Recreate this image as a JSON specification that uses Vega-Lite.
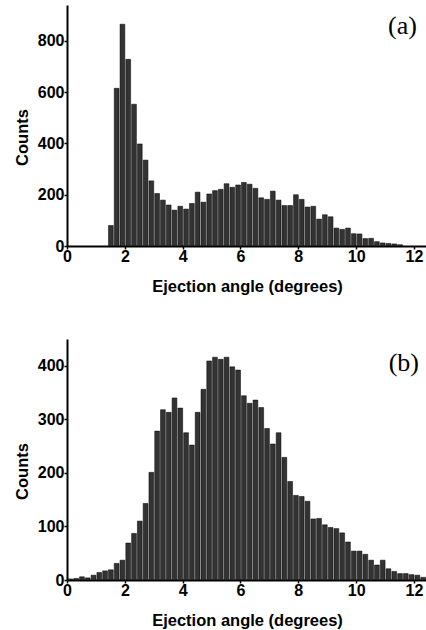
{
  "$schema": "https://vega.github.io/schema/vega-lite/v6.json",
  "padding": {"left": 14, "top": 5, "right": 0, "bottom": 5},
  "background": "white",
  "spacing": 44,
  "config": {
    "view": {"stroke": null},
    "axis": {
      "grid": false,
      "labelFont": "Liberation Sans", "labelFontWeight": "bold", "labelFontSize": 16, "labelColor": "black",
      "titleFont": "Liberation Sans", "titleFontWeight": "bold", "titleFontSize": 16.5, "titleColor": "black",
      "domainColor": "black", "domainWidth": 2, "tickColor": "black", "tickWidth": 1.5, "tickSize": 3
    },
    "axisX": {"labelPadding": -1, "titlePadding": 14},
    "axisY": {"labelPadding": 0, "titlePadding": 7}
  },
  "datasets": {
    "a": [
      {"lo":1.4,"hi":1.6,"count":80},{"lo":1.6,"hi":1.8,"count":615},{"lo":1.8,"hi":2.0,"count":865},{"lo":2.0,"hi":2.2,"count":728},
      {"lo":2.2,"hi":2.4,"count":553},{"lo":2.4,"hi":2.6,"count":398},{"lo":2.6,"hi":2.8,"count":335},{"lo":2.8,"hi":3.0,"count":254},
      {"lo":3.0,"hi":3.2,"count":205},{"lo":3.2,"hi":3.4,"count":179},{"lo":3.4,"hi":3.6,"count":160},{"lo":3.6,"hi":3.8,"count":140},
      {"lo":3.8,"hi":4.0,"count":155},{"lo":4.0,"hi":4.2,"count":144},{"lo":4.2,"hi":4.4,"count":166},{"lo":4.4,"hi":4.6,"count":210},
      {"lo":4.6,"hi":4.8,"count":171},{"lo":4.8,"hi":5.0,"count":203},{"lo":5.0,"hi":5.2,"count":216},{"lo":5.2,"hi":5.4,"count":221},
      {"lo":5.4,"hi":5.6,"count":243},{"lo":5.6,"hi":5.8,"count":229},{"lo":5.8,"hi":6.0,"count":238},{"lo":6.0,"hi":6.2,"count":248},
      {"lo":6.2,"hi":6.4,"count":241},{"lo":6.4,"hi":6.6,"count":225},{"lo":6.6,"hi":6.8,"count":188},{"lo":6.8,"hi":7.0,"count":182},
      {"lo":7.0,"hi":7.2,"count":214},{"lo":7.2,"hi":7.4,"count":179},{"lo":7.4,"hi":7.6,"count":158},{"lo":7.6,"hi":7.8,"count":158},
      {"lo":7.8,"hi":8.0,"count":200},{"lo":8.0,"hi":8.2,"count":182},{"lo":8.2,"hi":8.4,"count":152},{"lo":8.4,"hi":8.6,"count":155},
      {"lo":8.6,"hi":8.8,"count":105},{"lo":8.8,"hi":9.0,"count":122},{"lo":9.0,"hi":9.2,"count":114},{"lo":9.2,"hi":9.4,"count":70},
      {"lo":9.4,"hi":9.6,"count":65},{"lo":9.6,"hi":9.8,"count":70},{"lo":9.8,"hi":10.0,"count":48},{"lo":10.0,"hi":10.2,"count":47},
      {"lo":10.2,"hi":10.4,"count":29},{"lo":10.4,"hi":10.6,"count":30},{"lo":10.6,"hi":10.8,"count":17},{"lo":10.8,"hi":11.0,"count":12},
      {"lo":11.0,"hi":11.2,"count":10},{"lo":11.2,"hi":11.4,"count":8},{"lo":11.4,"hi":11.6,"count":5}
    ],
    "b": [
      {"lo":0.0,"hi":0.2,"count":2},{"lo":0.2,"hi":0.4,"count":3},{"lo":0.4,"hi":0.6,"count":6},{"lo":0.6,"hi":0.8,"count":4},
      {"lo":0.8,"hi":1.0,"count":9},{"lo":1.0,"hi":1.2,"count":14},{"lo":1.2,"hi":1.4,"count":17},{"lo":1.4,"hi":1.6,"count":19},
      {"lo":1.6,"hi":1.8,"count":31},{"lo":1.8,"hi":2.0,"count":37},{"lo":2.0,"hi":2.2,"count":69},{"lo":2.2,"hi":2.4,"count":87},
      {"lo":2.4,"hi":2.6,"count":110},{"lo":2.6,"hi":2.8,"count":143},{"lo":2.8,"hi":3.0,"count":201},{"lo":3.0,"hi":3.2,"count":278},
      {"lo":3.2,"hi":3.4,"count":318},{"lo":3.4,"hi":3.6,"count":313},{"lo":3.6,"hi":3.8,"count":340},{"lo":3.8,"hi":4.0,"count":321},
      {"lo":4.0,"hi":4.2,"count":275},{"lo":4.2,"hi":4.4,"count":252},{"lo":4.4,"hi":4.6,"count":313},{"lo":4.6,"hi":4.8,"count":356},
      {"lo":4.8,"hi":5.0,"count":409},{"lo":5.0,"hi":5.2,"count":416},{"lo":5.2,"hi":5.4,"count":412},{"lo":5.4,"hi":5.6,"count":416},
      {"lo":5.6,"hi":5.8,"count":398},{"lo":5.8,"hi":6.0,"count":392},{"lo":6.0,"hi":6.2,"count":344},{"lo":6.2,"hi":6.4,"count":330},
      {"lo":6.4,"hi":6.6,"count":336},{"lo":6.6,"hi":6.8,"count":322},{"lo":6.8,"hi":7.0,"count":283},{"lo":7.0,"hi":7.2,"count":254},
      {"lo":7.2,"hi":7.4,"count":275},{"lo":7.4,"hi":7.6,"count":229},{"lo":7.6,"hi":7.8,"count":184},{"lo":7.8,"hi":8.0,"count":158},
      {"lo":8.0,"hi":8.2,"count":156},{"lo":8.2,"hi":8.4,"count":147},{"lo":8.4,"hi":8.6,"count":114},{"lo":8.6,"hi":8.8,"count":115},
      {"lo":8.8,"hi":9.0,"count":103},{"lo":9.0,"hi":9.2,"count":98},{"lo":9.2,"hi":9.4,"count":96},{"lo":9.4,"hi":9.6,"count":88},
      {"lo":9.6,"hi":9.8,"count":71},{"lo":9.8,"hi":10.0,"count":54},{"lo":10.0,"hi":10.2,"count":54},{"lo":10.2,"hi":10.4,"count":48},
      {"lo":10.4,"hi":10.6,"count":37},{"lo":10.6,"hi":10.8,"count":28},{"lo":10.8,"hi":11.0,"count":37},{"lo":11.0,"hi":11.2,"count":21},
      {"lo":11.2,"hi":11.4,"count":16},{"lo":11.4,"hi":11.6,"count":12},{"lo":11.6,"hi":11.8,"count":12},{"lo":11.8,"hi":12.0,"count":10},
      {"lo":12.0,"hi":12.2,"count":9},{"lo":12.2,"hi":12.4,"count":5}
    ]
  },
  "vconcat": [
    {
      "width": 360,
      "height": 241,
      "layer": [
        {
          "data": {"name": "a"},
          "mark": {"type": "bar", "fill": "#333333", "stroke": "#000000", "strokeWidth": 0.5, "binSpacing": 1},
          "encoding": {
            "x": {"field": "lo", "type": "quantitative", "bin": "binned",
                  "scale": {"domain": [0, 12.45], "nice": false, "zero": false},
                  "axis": {"title": "Ejection angle (degrees)", "values": [0,1,2,3,4,5,6,7,8,9,10,11,12],
                           "labelExpr": "datum.value % 2 == 0 ? datum.label : ''", "labelFlush": false}},
            "x2": {"field": "hi"},
            "y": {"field": "count", "type": "quantitative",
                  "scale": {"domain": [0, 940], "nice": false},
                  "axis": {"title": "Counts", "values": [0,100,200,300,400,500,600,700,800,900],
                           "labelExpr": "datum.value % 200 == 0 ? datum.label : ''", "titleY": 132}}
          }
        },
        {
          "data": {"values": [{"x": 11.6, "y": 857, "label": "(a)"}]},
          "mark": {"type": "text", "font": "Liberation Serif", "fontSize": 26, "color": "black", "align": "center", "baseline": "middle"},
          "encoding": {
            "x": {"field": "x", "type": "quantitative"},
            "y": {"field": "y", "type": "quantitative"},
            "text": {"field": "label"}
          }
        }
      ]
    },
    {
      "width": 360,
      "height": 241,
      "layer": [
        {
          "data": {"name": "b"},
          "mark": {"type": "bar", "fill": "#333333", "stroke": "#000000", "strokeWidth": 0.5, "binSpacing": 1},
          "encoding": {
            "x": {"field": "lo", "type": "quantitative", "bin": "binned",
                  "scale": {"domain": [0, 12.45], "nice": false, "zero": false},
                  "axis": {"title": "Ejection angle (degrees)", "values": [0,1,2,3,4,5,6,7,8,9,10,11,12],
                           "labelExpr": "datum.value % 2 == 0 ? datum.label : ''", "labelFlush": false}},
            "x2": {"field": "hi"},
            "y": {"field": "count", "type": "quantitative",
                  "scale": {"domain": [0, 450], "nice": false},
                  "axis": {"title": "Counts", "values": [0,50,100,150,200,250,300,350,400,450],
                           "labelExpr": "datum.value % 100 == 0 ? datum.label : ''", "titleY": 132}}
          }
        },
        {
          "data": {"values": [{"x": 11.65, "y": 405, "label": "(b)"}]},
          "mark": {"type": "text", "font": "Liberation Serif", "fontSize": 26, "color": "black", "align": "center", "baseline": "middle"},
          "encoding": {
            "x": {"field": "x", "type": "quantitative"},
            "y": {"field": "y", "type": "quantitative"},
            "text": {"field": "label"}
          }
        }
      ]
    }
  ]
}
